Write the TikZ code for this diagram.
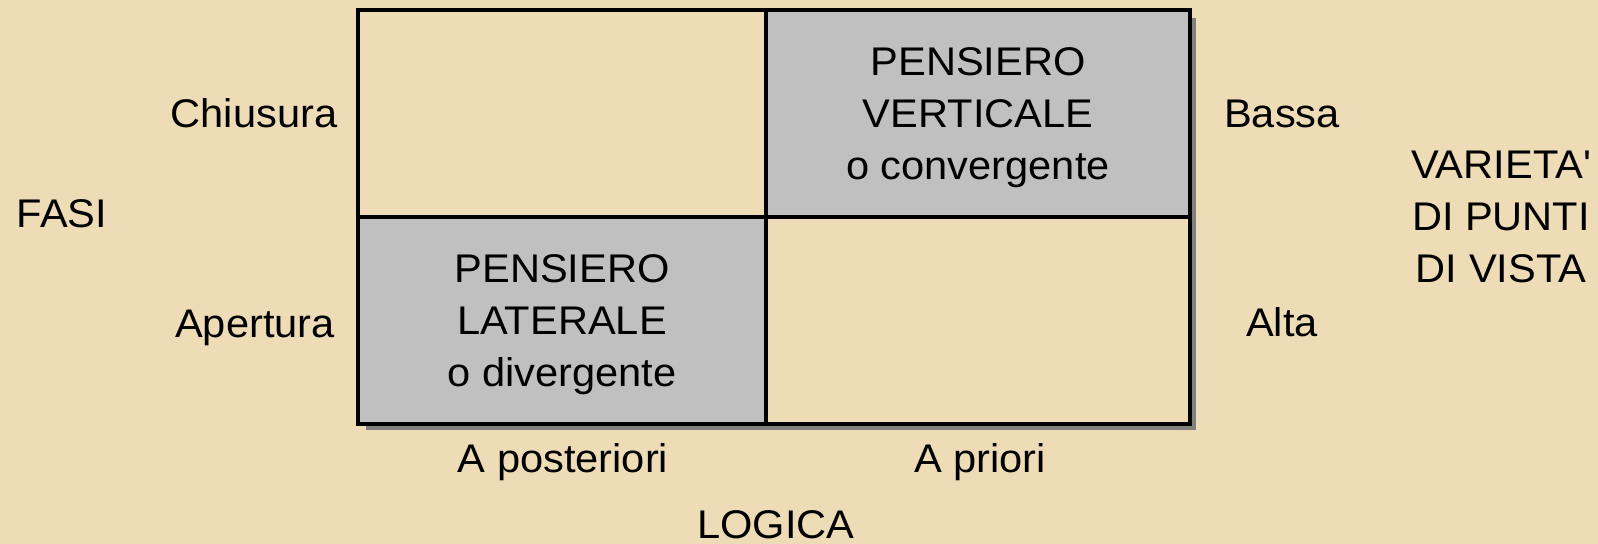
\documentclass[tikz,border=0pt]{standalone}
\usepackage{fontspec}
\setmainfont{Liberation Sans}[FakeStretch=1.04]
\definecolor{parchment}{RGB}{237,220,181}
\definecolor{cellgray}{RGB}{192,192,192}
\definecolor{shadowgray}{RGB}{128,128,128}

\begin{document}
\begin{tikzpicture}
		[x=0.5pt, y=-0.5pt,
		every node/.style={font=\fontsize{20}{26}\selectfont, inner sep=0pt, outer sep=0pt},
		cell/.style={rectangle, draw, line width=2pt, minimum height=103.5pt, align=center},
		lcell/.style={cell, minimum width=204pt},
		rcell/.style={cell, minimum width=212pt},
		lab/.style={anchor=base}]
		% background %
		\fill[parchment] (0,0) rectangle (1598,544);
		\useasboundingbox (0,0) rectangle (1598,544);

		% grid %
		\node[lcell] (tl) at (562,113.5) {};
		\node[rcell, fill=cellgray] (tr) at (978,113.5) {\rule{0pt}{18.6pt}PENSIERO\\VERTICALE\\o convergente};
		\node[lcell, fill=cellgray] (bl) at (562,320.5) {\rule{0pt}{18.6pt}PENSIERO\\LATERALE\\o divergente};
		\node[rcell] (br) at (978,320.5) {};

		% shadow %
		\draw[shadowgray, line width=2pt] ([xshift=4pt,yshift=-2pt]bl.south west) -- ([xshift=2pt,yshift=-2pt]br.south east) -- ([xshift=2pt,yshift=-4pt]tr.north east);

		% labels %
		\node[lab] (fasi) at (62,228) {FASI};
		\node[lab] (chiusura) at (254,128) {Chiusura};
		\node[lab] (apertura) at (255,338) {Apertura};
		\node[lab] (bassa) at (1282,128) {Bassa};
		\node[lab] (alta) at (1282,337) {Alta};
		\node[lab, align=center] (varieta) at (1501,283) {VARIETA\textquotesingle\\DI PUNTI\\DI VISTA};
		\node[lab] (poster) at (563,472) {A posteriori};
		\node[lab] (prior) at (980,472) {A priori};
		\node[lab] (logica) at (776,538) {LOGICA};
		\end{tikzpicture}
\end{document}
